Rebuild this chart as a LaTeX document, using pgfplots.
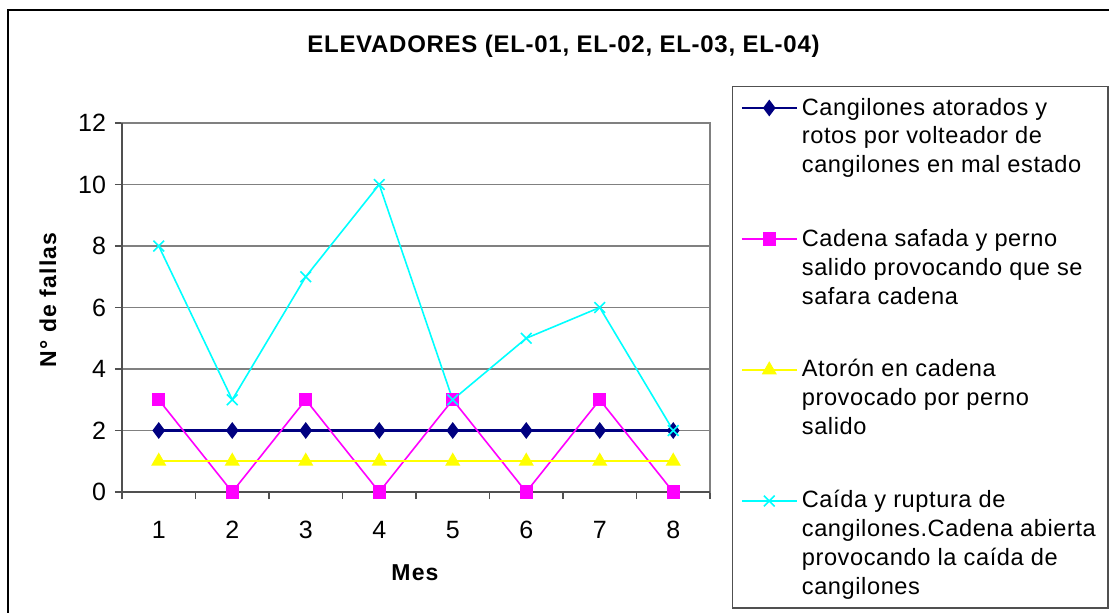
\documentclass[border=0pt]{standalone}
\usepackage{fontspec}
\setmainfont{Liberation Sans}
\newfontfamily\spfont{Liberation Sans}[LetterSpace=3]
\newfontfamily\spfontl{Liberation Sans}[LetterSpace=2.5]
\newfontfamily\spfontb{Liberation Sans}[LetterSpace=5]
\usepackage{pgfplots}
\pgfplotsset{compat=1.18}
\definecolor{sblue}{RGB}{0,0,128}
\definecolor{smag}{RGB}{255,0,255}
\definecolor{syel}{RGB}{255,255,0}
\definecolor{scyan}{RGB}{0,255,255}
\definecolor{gridgray}{RGB}{128,128,128}
\definecolor{axgray}{RGB}{80,80,80}
\newcommand{\legfont}{\spfontl\fontsize{11.8}{14.5}\selectfont}
\begin{document}
\begin{tikzpicture}[x=1pt,y=1pt]
\useasboundingbox (0,0) rectangle (554.5,306);
\draw[line width=0.9pt] (4,-10) rectangle (570,301);
\node[anchor=base, font=\spfont\bfseries\fontsize{12}{14}\selectfont] at (281.75,279.5) {ELEVADORES (EL-01, EL-02, EL-03, EL-04)};
\node[rotate=90, font=\spfontb\bfseries\fontsize{11.5}{14}\selectfont] at (24,156) {N° de fallas};
\node[font=\spfontb\bfseries\fontsize{11.5}{14}\selectfont] at (207.5,19.5) {Mes};
\begin{axis}[
  at={(61pt,60pt)}, anchor=south west, scale only axis,
  width=294pt, height=184.5pt,
  xmin=0.5, xmax=8.5, ymin=0, ymax=12,
  xtick={1,...,8},
  minor xtick={0.5,1.5,...,8.5},
  ytick={0,2,...,12},
  tick pos=left,
  every major x tick/.append style={draw=none},
  tick align=outside,
  major tick length=3.5pt, minor tick length=3.5pt,
  tick style={axgray, line width=0.6pt},
  ymajorgrids,
  grid style={gridgray, line width=0.7pt},
  axis line style={gridgray, line width=0.7pt},
  /pgf/number format/assume math mode=true,
  tick label style={font=\fontsize{12.5}{14}\selectfont},
  yticklabel style={xshift=-1pt},
  xticklabel style={yshift=-7.5pt},
  clip=false,
  legend style={at={(1.0374,1.1003)}, anchor=north west,
    draw=axgray, line width=0.7pt, fill=white, font=\legfont,
    inner xsep=4pt, inner ysep=2pt, row sep=18pt,
    cells={anchor=base west},
    nodes={inner sep=2pt, text depth=}},
  legend image code/.code={\draw[mark repeat=2,mark phase=2,#1] plot coordinates {(0pt,3.5pt) (13.75pt,3.5pt) (27.5pt,3.5pt)};},
]
\addplot[color=sblue, line width=1.1pt, mark=diamond*, mark size=3.3pt, mark options={fill=sblue, solid}]
  coordinates {(1,2) (2,2) (3,2) (4,2) (5,2) (6,2) (7,2) (8,2)};
\addlegendentry{\parbox[t]{147pt}{\strut Cangilones atorados y\\rotos por volteador de\\cangilones en mal estado\strut}}
\addplot[color=smag, line width=0.8pt, mark=square*, mark size=2.9pt, mark options={fill=smag}]
  coordinates {(1,3) (2,0) (3,3) (4,0) (5,3) (6,0) (7,3) (8,0)};
\addlegendentry{\parbox[t]{147pt}{\strut Cadena safada y perno\\salido provocando que se\\safara cadena\strut}}
\addplot[color=syel, line width=1pt, mark=triangle*, mark size=3.4pt, mark options={fill=syel}]
  coordinates {(1,1) (2,1) (3,1) (4,1) (5,1) (6,1) (7,1) (8,1)};
\addlegendentry{\parbox[t]{147pt}{\strut Atorón en cadena\\provocado por perno\\salido\strut}}
\addplot[color=scyan, line width=0.8pt, mark=x, mark size=3.8pt]
  coordinates {(1,8) (2,3) (3,7) (4,10) (5,3) (6,5) (7,6) (8,2)};
\addlegendentry{\parbox[t]{147pt}{\strut Caída y ruptura de\\cangilones.Cadena\ abierta\\provocando la caída de\\cangilones}}
\draw[axgray, line width=0.8pt] (axis cs:0.5,12) -- (axis cs:0.5,0) -- (axis cs:8.5,0);
\end{axis}
\end{tikzpicture}
\end{document}
